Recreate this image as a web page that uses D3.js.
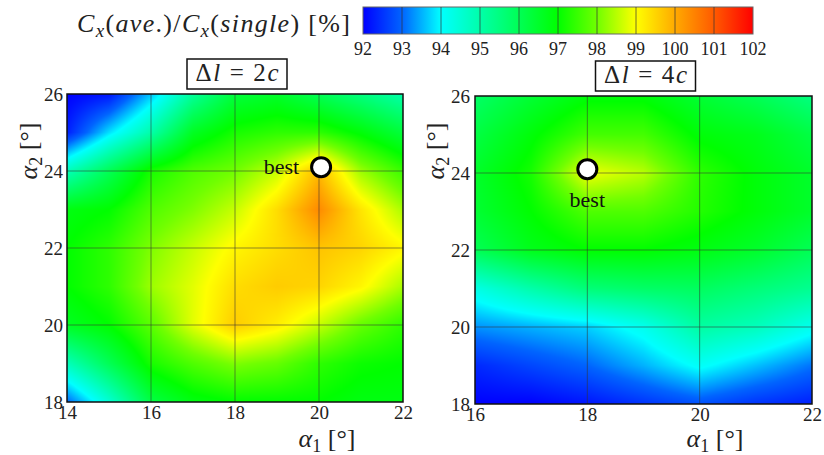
<!DOCTYPE html>
<html>
<head>
<meta charset="UTF-8">
<title>Cx(ave.)/Cx(single) contour maps</title>
<script src="https://d3js.org/d3.v7.min.js"></script>
<style>
  body { margin: 0; background: #fff; }
  svg text, svg tspan { font-family: "Liberation Serif" !important; }
  .grid line { stroke: #333; stroke-opacity: 0.55; stroke-width: 1; }
</style>
</head>
<body>
<svg width="824" height="455" font-family="Liberation Serif"></svg>
<script>
// ---- data ----
const colorTicks = [92, 93, 94, 95, 96, 97, 98, 99, 100, 101, 102];
const colorStops = ["#0000ff", "#0064ff", "#00ffff", "#00ffaa", "#00ff55", "#00ff00",
                    "#70ff00", "#ffff00", "#ffaa00", "#ff5a00", "#ff0000"];

const a2Rows = [26, 25, 24, 23, 22, 21, 20, 19, 18];   // alpha2, top to bottom
const a2Ticks = [18, 20, 22, 24, 26];

// dl = 2c : alpha1 = 14..22
const leftA1 = [14, 15, 16, 17, 18, 19, 20, 21, 22];
const leftA1Ticks = [14, 16, 18, 20, 22];
const leftValues = [
  [92.0, 92.2, 93.6, 95.2, 96.3, 96.5, 96.0, 95.5, 95.0],
  [92.3, 93.8, 95.0, 96.6, 97.2, 97.4, 97.4, 96.9, 96.3],
  [94.8, 96.0, 97.2, 97.7, 98.0, 98.6, 99.8, 98.3, 97.5],
  [96.8, 97.0, 97.7, 98.1, 98.6, 99.4, 100.4, 99.3, 98.4],
  [97.0, 97.4, 98.1, 98.6, 99.1, 99.4, 99.7, 99.5, 99.1],
  [97.0, 97.4, 98.3, 98.8, 99.4, 99.6, 99.5, 99.1, 98.4],
  [96.6, 97.0, 97.8, 98.8, 99.6, 99.2, 98.6, 97.9, 97.4],
  [94.8, 96.0, 97.2, 97.7, 98.1, 97.9, 97.4, 97.1, 97.0],
  [93.0, 94.5, 96.2, 96.8, 97.0, 97.0, 97.0, 96.8, 96.8]
];
const leftBest = [20.05, 24.1];

// dl = 4c : alpha1 = 16..22
const rightA1 = [16, 17, 18, 19, 20, 21, 22];
const rightA1Ticks = [16, 18, 20, 22];
const rightValues = [
  [95.8, 96.4, 96.9, 96.9, 96.4, 96.0, 95.5],
  [96.2, 96.9, 97.6, 97.6, 96.9, 96.7, 96.2],
  [96.5, 97.2, 98.9, 98.5, 97.4, 96.9, 96.5],
  [96.4, 97.0, 97.7, 97.7, 97.3, 96.9, 96.5],
  [96.0, 96.7, 97.0, 97.0, 96.8, 96.5, 96.0],
  [94.3, 95.0, 95.6, 95.8, 95.9, 95.6, 95.3],
  [93.3, 93.5, 93.7, 94.2, 95.1, 94.8, 94.2],
  [92.4, 92.7, 93.0, 93.5, 94.1, 93.6, 93.1],
  [92.0, 92.0, 92.2, 92.5, 92.8, 92.5, 92.3]
];
const rightBest = [18.0, 24.1];

const svg = d3.select("svg");
const color = d3.scaleLinear().domain(colorTicks).range(colorStops).clamp(true);

// ---- colour bar ----
const cbX = d3.scaleLinear().domain([92, 102]).range([363, 753]);
const cbTop = 7, cbH = 27;
const grad = svg.append("defs").append("linearGradient").attr("id", "cbgrad");
colorTicks.forEach(t => grad.append("stop")
  .attr("offset", (cbX(t) - cbX(92)) / (cbX(102) - cbX(92)))
  .attr("stop-color", color(t)));
svg.append("rect").attr("x", cbX(92)).attr("y", cbTop)
  .attr("width", cbX(102) - cbX(92)).attr("height", cbH)
  .attr("fill", "url(#cbgrad)").attr("stroke", "#666").attr("stroke-width", 1);
svg.append("g").selectAll("line").data(colorTicks.slice(1, -1)).join("line")
  .attr("x1", d => cbX(d)).attr("x2", d => cbX(d))
  .attr("y1", cbTop).attr("y2", cbTop + cbH)
  .attr("stroke", "#333").attr("stroke-opacity", 0.7);
svg.append("g").selectAll("text").data(colorTicks).join("text")
  .attr("x", d => cbX(d)).attr("y", 55)
  .attr("text-anchor", "middle").attr("font-size", 18).attr("fill", "#222")
  .text(d => d);

// colour bar title: Cx(ave.)/Cx(single) [%]
const cbTitle = svg.append("text").attr("x", 77).attr("y", 32)
  .attr("font-size", 26).attr("fill", "#222")
  .attr("textLength", 273).attr("lengthAdjust", "spacing");
cbTitle.append("tspan").attr("font-style", "italic").text("C");
cbTitle.append("tspan").attr("font-style", "italic").attr("font-size", 19).attr("dy", 5).text("x");
cbTitle.append("tspan").attr("dy", -5).text("(");
cbTitle.append("tspan").attr("font-style", "italic").text("ave");
cbTitle.append("tspan").text(".)/");
cbTitle.append("tspan").attr("font-style", "italic").text("C");
cbTitle.append("tspan").attr("font-style", "italic").attr("font-size", 19).attr("dy", 5).text("x");
cbTitle.append("tspan").attr("dy", -5).text("(");
cbTitle.append("tspan").attr("font-style", "italic").text("single");
cbTitle.append("tspan").text(") [%]");

// ---- bilinear lookup on the 1-degree grid ----
function lookup(a1s, vals, a1, a2) {
  const fi = (a1 - a1s[0]) / (a1s[1] - a1s[0]);
  const fj = (a2Rows[0] - a2) / (a2Rows[0] - a2Rows[1]);
  const i = Math.max(0, Math.min(a1s.length - 2, Math.floor(fi)));
  const j = Math.max(0, Math.min(a2Rows.length - 2, Math.floor(fj)));
  const tx = fi - i, ty = fj - j;
  return vals[j][i] * (1 - tx) * (1 - ty) + vals[j][i + 1] * tx * (1 - ty)
       + vals[j + 1][i] * (1 - tx) * ty + vals[j + 1][i + 1] * tx * ty;
}

const panels = [
  { a1: leftA1, ticks: leftA1Ticks, vals: leftValues, best: leftBest, label: "2c",
    left: 67, right: 403, top: 94, bottom: 402, bestPos: "left", xTitle: 327, yTitle: 37, pad: 4 },
  { a1: rightA1, ticks: rightA1Ticks, vals: rightValues, best: rightBest, label: "4c",
    left: 475, right: 812, top: 96, bottom: 404, bestPos: "below", xTitle: 715, yTitle: 444, pad: 5 }
];

panels.forEach(p => {
  const x = d3.scaleLinear().domain(d3.extent(p.a1)).range([p.left, p.right]);
  const y = d3.scaleLinear().domain([18, 26]).range([p.bottom, p.top]);
  const w = p.right - p.left, h = p.bottom - p.top;

  // raster of the field
  const cv = document.createElement("canvas");
  cv.width = w; cv.height = h;
  const ctx = cv.getContext("2d");
  const img = ctx.createImageData(w, h);
  for (let py = 0; py < h; py++) {
    for (let px = 0; px < w; px++) {
      const v = lookup(p.a1, p.vals, x.invert(p.left + px + 0.5), y.invert(p.top + py + 0.5));
      const c = d3.rgb(color(v));
      const k = (py * w + px) * 4;
      img.data[k] = c.r; img.data[k + 1] = c.g; img.data[k + 2] = c.b; img.data[k + 3] = 255;
    }
  }
  ctx.putImageData(img, 0, 0);
  svg.append("image").attr("x", p.left).attr("y", p.top)
    .attr("width", w).attr("height", h).attr("href", cv.toDataURL());

  // grid
  const grid = svg.append("g").attr("class", "grid");
  grid.selectAll(".gx").data(p.ticks.slice(1, -1)).join("line")
    .attr("x1", d => x(d)).attr("x2", d => x(d)).attr("y1", p.top).attr("y2", p.bottom);
  grid.selectAll(".gy").data(a2Ticks.slice(1, -1)).join("line")
    .attr("y1", d => y(d)).attr("y2", d => y(d)).attr("x1", p.left).attr("x2", p.right);

  svg.append("rect").attr("x", p.left).attr("y", p.top).attr("width", w).attr("height", h)
    .attr("fill", "none").attr("stroke", "#111").attr("stroke-width", 1.5);

  // axes
  const styleTicks = g => {
    g.select(".domain").remove();
    g.attr("font-family", "Liberation Serif").attr("font-size", 19);
    g.selectAll("text").attr("fill", "#222");
  };
  svg.append("g").attr("transform", `translate(0,${p.bottom})`)
    .call(d3.axisBottom(x).tickValues(p.ticks).tickFormat(d3.format("d")).tickSize(0).tickPadding(4))
    .call(styleTicks);
  svg.append("g").attr("transform", `translate(${p.left},0)`)
    .call(d3.axisLeft(y).tickValues(a2Ticks).tickFormat(d3.format("d")).tickSize(0).tickPadding(p.pad))
    .call(styleTicks);

  // axis titles
  const xt = svg.append("text").attr("x", p.xTitle).attr("y", 447)
    .attr("text-anchor", "middle").attr("font-size", 26).attr("fill", "#222");
  xt.append("tspan").attr("font-style", "italic").text("α");
  xt.append("tspan").attr("font-size", 18).attr("dy", 5).text("1");
  xt.append("tspan").attr("dy", -5).text(" [°]");

  const yt = svg.append("text").attr("transform", `translate(${p.yTitle},151) rotate(-90)`)
    .attr("text-anchor", "middle").attr("font-size", 26).attr("fill", "#222");
  yt.append("tspan").attr("font-style", "italic").text("α");
  yt.append("tspan").attr("font-size", 18).attr("dy", 5).text("2");
  yt.append("tspan").attr("dy", -5).text(" [°]");

  // panel label box
  const cx = (p.left + p.right) / 2 + 2;
  svg.append("rect").attr("x", cx - 50).attr("y", p.top - 35).attr("width", 100).attr("height", 30)
    .attr("fill", "#fff").attr("stroke", "#111").attr("stroke-width", 1.5);
  const lt = svg.append("text").attr("x", cx).attr("y", p.top - 13)
    .attr("text-anchor", "middle").attr("font-size", 25).attr("fill", "#222")
    .attr("textLength", 83).attr("lengthAdjust", "spacing");
  lt.append("tspan").text("Δ");
  lt.append("tspan").attr("font-style", "italic").text("l");
  lt.append("tspan").text(" = " + p.label[0]);
  lt.append("tspan").attr("font-style", "italic").text(p.label[1]);

  // best point
  const bx = x(p.best[0]), by = y(p.best[1]);
  svg.append("circle").attr("cx", bx).attr("cy", by).attr("r", 9.5)
    .attr("fill", "#fff").attr("stroke", "#000").attr("stroke-width", 3);
  svg.append("text")
    .attr("x", p.bestPos === "left" ? bx - 22 : bx)
    .attr("y", p.bestPos === "left" ? by + 7 : by + 38)
    .attr("text-anchor", p.bestPos === "left" ? "end" : "middle")
    .attr("font-size", 22).attr("fill", "#111").text("best");
});
</script>
</body>
</html>
